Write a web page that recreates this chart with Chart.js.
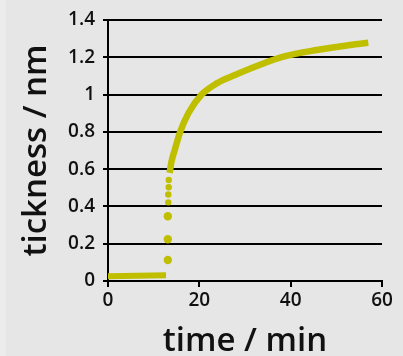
<!DOCTYPE html>
<html>
<head>
<meta charset="utf-8">
<script src="https://cdn.jsdelivr.net/npm/chart.js@4/dist/chart.umd.min.js"></script>
<style>
  html, body { margin: 0; padding: 0; }
  body {
    width: 403px; height: 356px; overflow: hidden;
    background: linear-gradient(to right, #ececec 0, #ececec 6px, #e6e6e6 6px);
  }
  #wrap { position: relative; width: 403px; height: 356px; }
</style>
</head>
<body>
<div id="wrap"><canvas id="c" width="403" height="356"></canvas></div>
<script>
// Film thickness over time: flat baseline, abrupt onset, then slow growth
const baselineTime = [0, 12.7];
const baselineThickness = [0.025, 0.031];

const onsetTime = [13.1, 13.1, 13.1, 13.2, 13.2, 13.3, 13.3];
const onsetThickness = [0.113, 0.224, 0.347, 0.422, 0.464, 0.503, 0.542];

const growthTime = [13.5, 13.9, 14.7, 15.8, 17.6, 20.5, 23.8, 27.8, 33.3, 38.4, 45.7, 53, 57];
const growthThickness = [0.58, 0.64, 0.71, 0.8, 0.9, 1.0, 1.06, 1.105, 1.16, 1.203, 1.239, 1.266, 1.278];

const xTicks = [0, 20, 40, 60];
const yTicks = [0, 0.2, 0.4, 0.6, 0.8, 1, 1.2, 1.4];

const olive = '#bfbf00';
const pts = (xs, ys) => xs.map((x, i) => ({ x, y: ys[i] }));
const tickFont = { family: 'Open Sans', size: 19, weight: '600' };
const titleFont = { family: 'Open Sans', size: 33, weight: '600', lineHeight: 1 };

new Chart(document.getElementById('c'), {
  type: 'scatter',
  data: {
    datasets: [
      {
        data: pts(baselineTime, baselineThickness),
        showLine: true, borderColor: olive, borderWidth: 6,
        borderCapStyle: 'butt', pointRadius: 0
      },
      {
        data: pts(onsetTime, onsetThickness),
        showLine: false, backgroundColor: olive, borderWidth: 0,
        pointRadius: [4.2, 4.2, 4.2, 3.2, 3.2, 3.2, 3.2]
      },
      {
        data: pts(growthTime, growthThickness),
        showLine: true, borderColor: olive, borderWidth: 6.5,
        borderCapStyle: 'butt', pointRadius: 0,
        cubicInterpolationMode: 'monotone'
      }
    ]
  },
  options: {
    responsive: false,
    animation: false,
    layout: { padding: { top: 20, right: 21, left: 0, bottom: 0 } },
    plugins: { legend: { display: false }, tooltip: { enabled: false } },
    scales: {
      x: {
        type: 'linear', min: 0, max: 60,
        afterBuildTicks: s => { s.ticks = xTicks.map(v => ({ value: v })); },
        ticks: { color: '#111', font: tickFont, padding: 2, maxRotation: 0 },
        grid: { drawOnChartArea: false, color: '#000', lineWidth: 2, tickLength: 6 },
        border: { color: '#000', width: 2 },
        title: {
          display: true, text: 'time / min', color: '#111',
          font: titleFont, padding: { top: 0, bottom: -2 }
        },
        afterFit: s => { s.height = 75; }
      },
      y: {
        type: 'linear', min: 0, max: 1.4,
        afterBuildTicks: s => { s.ticks = yTicks.map(v => ({ value: v })); },
        ticks: { color: '#111', font: tickFont, padding: 8,
                 callback: v => String(Math.round(v * 10) / 10) },
        grid: { color: '#000', lineWidth: 2, tickLength: 5 },
        border: { color: '#000', width: 2 },
        title: {
          display: true, text: 'tickness / nm', color: '#111',
          font: titleFont, padding: { top: 20, bottom: 0 }
        },
        afterFit: s => { s.width = 108; }
      }
    }
  }
});
</script>
</body>
</html>
